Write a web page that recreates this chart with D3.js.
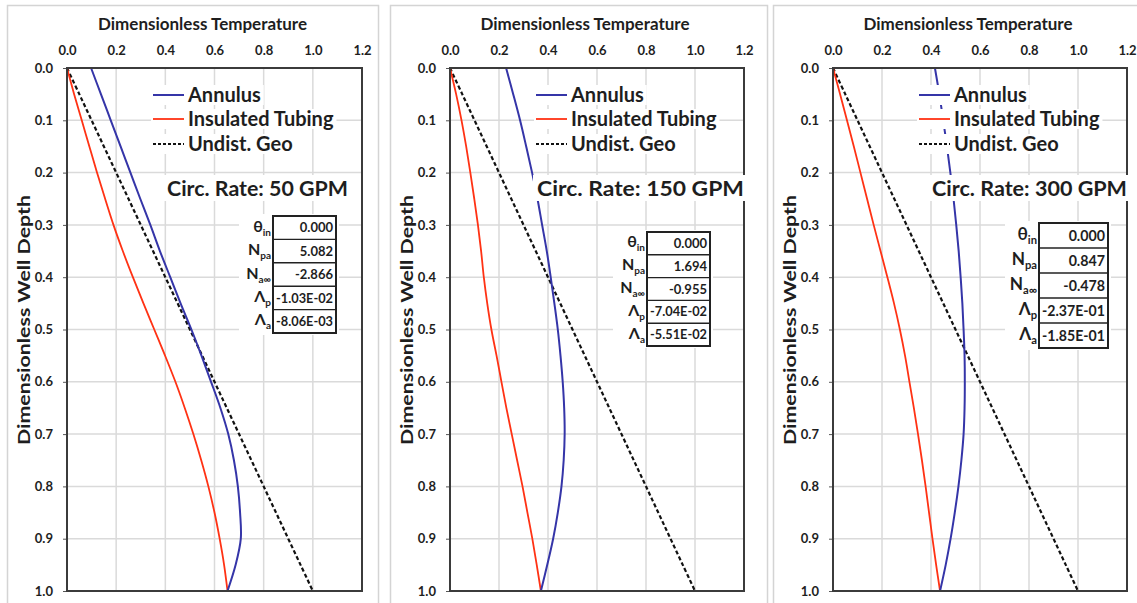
<!DOCTYPE html>
<html lang="en">
<head>
<meta charset="UTF-8">
<title>Dimensionless temperature profiles</title>
<script src="https://d3js.org/d3.v7.min.js"></script>
<style>
  body { margin: 0; background: #fff; }
  svg text { font-family: Lato, "Open Sans", sans-serif; font-weight: bold; fill: #1e1e1e; }
</style>
</head>
<body>
<svg width="1137" height="603"></svg>
<script>
// ---- data ----
const depth = [0, 0.05, 0.1, 0.15, 0.2, 0.25, 0.3, 0.35, 0.4, 0.45, 0.5,
               0.55, 0.6, 0.65, 0.7, 0.75, 0.8, 0.85, 0.9, 0.95, 1.0];
const xTicks = [0, 0.2, 0.4, 0.6, 0.8, 1.0, 1.2];
const yTicks = [0, 0.1, 0.2, 0.3, 0.4, 0.5, 0.6, 0.7, 0.8, 0.9, 1.0];
const seriesNames = ["Annulus", "Insulated Tubing", "Undist. Geo"];
const rateLabels = ["Circ. Rate: 50 GPM", "Circ. Rate: 150 GPM", "Circ. Rate: 300 GPM"];

const annulus50 = [0.098, 0.138, 0.178, 0.218, 0.258, 0.298, 0.339, 0.378, 0.42, 0.462, 0.506,
                   0.547, 0.586, 0.624, 0.656, 0.679, 0.695, 0.704, 0.707, 0.686, 0.653];
const tubing50  = [0, 0.029, 0.06, 0.091, 0.122, 0.155, 0.189, 0.227, 0.268, 0.311, 0.355,
                   0.399, 0.441, 0.479, 0.514, 0.546, 0.575, 0.6, 0.621, 0.639, 0.653];
const annulus150 = [0.229, 0.258, 0.286, 0.311, 0.335, 0.357, 0.376, 0.395, 0.411, 0.426, 0.44,
                    0.451, 0.46, 0.466, 0.468, 0.464, 0.455, 0.44, 0.421, 0.397, 0.371];
const tubing150  = [0, 0.025, 0.047, 0.066, 0.083, 0.099, 0.114, 0.127, 0.138, 0.152, 0.169,
                    0.19, 0.21, 0.23, 0.252, 0.274, 0.296, 0.316, 0.336, 0.354, 0.371];
const annulus300 = [0.416, 0.434, 0.45, 0.465, 0.479, 0.492, 0.503, 0.513, 0.521, 0.528, 0.533,
                    0.537, 0.538, 0.537, 0.533, 0.524, 0.512, 0.497, 0.48, 0.46, 0.437];
const tubing300  = [0, 0.029, 0.057, 0.085, 0.112, 0.139, 0.166, 0.194, 0.222, 0.249, 0.273,
                    0.294, 0.312, 0.33, 0.347, 0.363, 0.378, 0.392, 0.406, 0.421, 0.437];
const undistGeo  = [0, 0.05, 0.1, 0.15, 0.2, 0.25, 0.3, 0.35, 0.4, 0.45, 0.5,
                    0.55, 0.6, 0.65, 0.7, 0.75, 0.8, 0.85, 0.9, 0.95, 1.0];

const paramSymbols = [["θ", "in"], ["N", "pa"], ["N", "a∞"], ["Λ", "p"], ["Λ", "a"]];
const params50  = ["0.000", "5.082", "-2.866", "-1.03E-02", "-8.06E-03"];
const params150 = ["0.000", "1.694", "-0.955", "-7.04E-02", "-5.51E-02"];
const params300 = ["0.000", "0.847", "-0.478", "-2.37E-01", "-1.85E-01"];

// ---- layout ----
const panels = [
  { box: [7, 5, 371], plot: [67, 362], ann: annulus50, tub: tubing50, rate: rateLabels[0], params: params50,
    rateX: 167, rateW: 181, table: { x: 273, y: 216, w: 63, h: 117 } },
  { box: [390, 5, 377], plot: [450, 744], ann: annulus150, tub: tubing150, rate: rateLabels[1], params: params150,
    rateX: 537, rateW: 207, table: { x: 647, y: 232, w: 63, h: 114 } },
  { box: [773, 5, 380], plot: [833, 1127], ann: annulus300, tub: tubing300, rate: rateLabels[2], params: params300,
    rateX: 932, rateW: 195, table: { x: 1039, y: 223, w: 69, h: 125 } }
];
const plotTop = 68, plotBottom = 591;
const colors = { ann: "#3535a8", tub: "#ff3214", geo: "#111" };

const svg = d3.select("svg");

panels.forEach(p => {
  const g = svg.append("g");
  // outer chart frame
  g.append("rect")
    .attr("x", p.box[0] + 0.5).attr("y", p.box[1] + 0.5)
    .attr("width", p.box[2]).attr("height", 610)
    .attr("fill", "#fff").attr("stroke", "#d4d4d4").attr("stroke-width", 1.5);

  const x = d3.scaleLinear().domain([0, 1.2]).range(p.plot);
  const y = d3.scaleLinear().domain([0, 1]).range([plotTop, plotBottom]);

  // gridlines
  g.append("g").selectAll("line").data(xTicks.slice(1, -1)).join("line")
    .attr("x1", d => x(d)).attr("x2", d => x(d)).attr("y1", plotTop).attr("y2", plotBottom)
    .attr("stroke", "#dadada").attr("stroke-width", 1.5);
  g.append("g").selectAll("line").data(yTicks.slice(1, -1)).join("line")
    .attr("x1", p.plot[0]).attr("x2", p.plot[1]).attr("y1", d => y(d)).attr("y2", d => y(d))
    .attr("stroke", "#dadada").attr("stroke-width", 1.5);

  // axes
  const xAxis = g.append("g").attr("transform", `translate(0,${plotTop})`)
    .call(d3.axisTop(x).tickValues(xTicks).tickFormat(d3.format(".1f")).tickSize(0).tickPadding(13));
  const yAxis = g.append("g").attr("transform", `translate(${p.plot[0]},0)`)
    .call(d3.axisLeft(y).tickValues(yTicks).tickFormat(d3.format(".1f")).tickSize(4).tickPadding(10));
  [xAxis, yAxis].forEach(a => {
    a.select(".domain").remove();
    a.selectAll("text").style("font-size", "13px").attr("fill", "#2a2a2a");
    a.selectAll("line").attr("stroke", "#555");
  });

  g.append("text").attr("x", (p.plot[0] + p.plot[1]) / 2 - 12).attr("y", 30)
    .attr("text-anchor", "middle").style("font-size", "17px").text("Dimensionless Temperature");
  g.append("text").attr("transform", `translate(${p.plot[0] - 37},320) rotate(-90)`)
    .attr("text-anchor", "middle").style("font-size", "17.5px")
    .attr("textLength", 250).attr("lengthAdjust", "spacingAndGlyphs")
    .text("Dimensionless Well Depth");

  // series
  const line = vals => d3.line().x(d => x(d)).y((d, i) => y(depth[i])).curve(d3.curveCatmullRom.alpha(0.5))(vals);
  g.append("path").attr("d", line(undistGeo)).attr("fill", "none")
    .attr("stroke", colors.geo).attr("stroke-width", 2.2).attr("stroke-dasharray", "4,2.5");
  g.append("path").attr("d", line(p.tub)).attr("fill", "none")
    .attr("stroke", colors.tub).attr("stroke-width", 1.8);
  g.append("path").attr("d", line(p.ann)).attr("fill", "none")
    .attr("stroke", colors.ann).attr("stroke-width", 2);

  // plot border
  g.append("rect").attr("x", p.plot[0]).attr("y", plotTop)
    .attr("width", p.plot[1] - p.plot[0]).attr("height", plotBottom - plotTop)
    .attr("fill", "none").attr("stroke", "#3b3b3b").attr("stroke-width", 2);

  // legend
  const lx = p.plot[0] + 86;
  const styles = [
    { c: colors.ann, w: 2, dash: null },
    { c: colors.tub, w: 1.8, dash: null },
    { c: colors.geo, w: 1.8, dash: "3,2" }
  ];
  const rowY = [95, 119, 144];
  seriesNames.forEach((name, i) => {
    const ly = rowY[i];
    const row = g.append("g");
    const t = row.append("text").attr("x", lx + 35).attr("y", ly + 7)
      .style("font-size", "20px").text(name);
    const bw = t.node().getComputedTextLength();
    row.insert("rect", "text").attr("x", lx - 2).attr("y", ly - 10)
      .attr("width", bw + 40).attr("height", 20).attr("fill", "#fff");
    row.insert("line", "text").attr("x1", lx).attr("x2", lx + 31).attr("y1", ly).attr("y2", ly)
      .attr("stroke", styles[i].c).attr("stroke-width", styles[i].w)
      .attr("stroke-dasharray", styles[i].dash);
  });

  // circulation rate label
  const rg = g.append("g");
  rg.append("rect").attr("x", p.rateX - 4).attr("y", 175)
    .attr("width", p.rateW + 6).attr("height", 26).attr("fill", "#fff");
  rg.append("text").attr("x", p.rateX).attr("y", 196)
    .style("font-size", "21.5px").attr("textLength", p.rateW).attr("lengthAdjust", "spacingAndGlyphs")
    .text(p.rate);

  // parameter table
  const tb = p.table, rh = tb.h / 5, fs = 13 * tb.w / 63;
  const tg = g.append("g");
  tg.append("rect").attr("x", tb.x - 34).attr("y", tb.y - 2).attr("width", tb.w + 37).attr("height", tb.h + 4)
    .attr("fill", "#fff");
  p.params.forEach((v, i) => {
    const cy = tb.y + rh * i + rh / 2;
    const vt = tg.append("text").attr("x", tb.x + tb.w - 3).attr("y", cy + fs * 0.36).attr("text-anchor", "end")
      .style("font-size", fs + "px").text(v);
    if (vt.node().getComputedTextLength() > tb.w - 6) {
      vt.attr("textLength", tb.w - 6).attr("lengthAdjust", "spacingAndGlyphs");
    }
    const lab = tg.append("text").attr("x", tb.x - 2).attr("y", cy + 4).attr("text-anchor", "end")
      .style("font-size", (fs + 3) + "px");
    lab.append("tspan").text(paramSymbols[i][0]);
    lab.append("tspan").attr("dy", 4).style("font-size", (fs - 3) + "px").text(paramSymbols[i][1]);
    if (i > 0) {
      tg.append("line").attr("x1", tb.x).attr("x2", tb.x + tb.w)
        .attr("y1", tb.y + rh * i).attr("y2", tb.y + rh * i)
        .attr("stroke", "#222").attr("stroke-width", 1.4);
    }
  });
  tg.append("rect").attr("x", tb.x).attr("y", tb.y).attr("width", tb.w).attr("height", tb.h)
    .attr("fill", "none").attr("stroke", "#222").attr("stroke-width", 2);
});
</script>
</body>
</html>
